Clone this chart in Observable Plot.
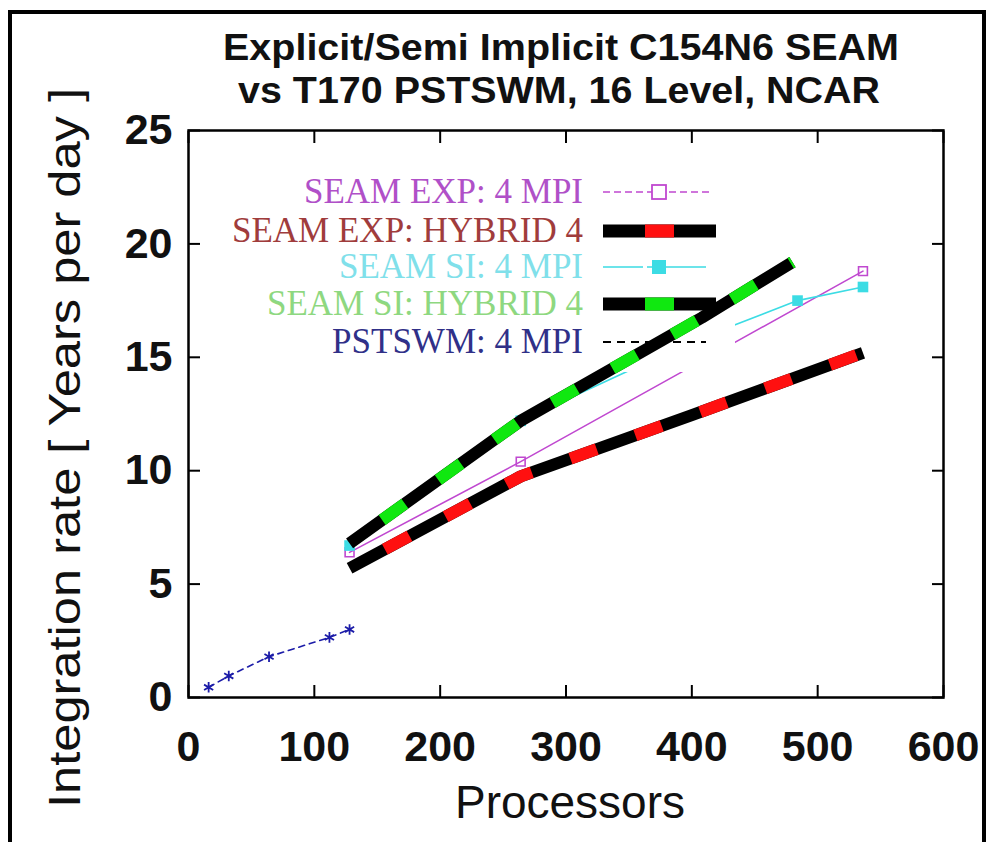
<!DOCTYPE html>
<html><head><meta charset="utf-8">
<script src="https://cdn.jsdelivr.net/npm/d3@7"></script>
<script src="https://cdn.jsdelivr.net/npm/@observablehq/plot@0.6"></script>
<style>
html,body{margin:0;padding:0;background:#fff;}
#wrap{position:relative;width:996px;height:842px;overflow:hidden;background:#fff;}
#wrap > svg{position:absolute;left:0;top:0;}
#border{position:absolute;left:8px;top:10px;width:970px;height:900px;border:4px solid #000;}
</style></head><body><div id="wrap"><div id="border"></div></div>
<script>
// ---- data ----
const xTicks = [0, 100, 200, 300, 400, 500, 600];
const yTicks = [0, 5, 10, 15, 20, 25];

const seamExpMpiProcs = [128, 264, 400, 536];
const seamExpMpiRate  = [6.4, 10.4, 14.6, 18.8];

const seamExpHybProcs = [128, 264, 400, 536];
const seamExpHybRate  = [5.7, 9.75, 12.45, 15.2];

const seamSiMpiProcs  = [128, 264, 400, 484, 536];
const seamSiMpiRate   = [6.7, 12.2, 15.7, 17.5, 18.1];

const seamSiHybProcs  = [128, 264, 408, 480];
const seamSiHybRate   = [6.8, 12.2, 16.75, 19.2];

const pstswmProcs     = [16, 32, 64, 112, 128];
const pstswmRate      = [0.45, 0.95, 1.8, 2.65, 3.0];

const seriesNames = ["SEAM EXP: 4 MPI", "SEAM EXP: HYBRID 4", "SEAM SI: 4 MPI", "SEAM SI: HYBRID 4", "PSTSWM: 4 MPI"];
const titleLines = ["Explicit/Semi Implicit C154N6 SEAM", "vs T170 PSTSWM, 16 Level, NCAR"];
const xLabel = "Processors";
const yLabel = "Integration rate  [ Years per day ]";

// ---- styles ----
const C = {
  expMpi: "#c048d0", expHyb: "#ff1010", siMpi: "#3cdce4", siHyb: "#10e810", pst: "#1c1ca8",
  txt: ["#b050c8", "#a03c3c", "#80e0ea", "#8ed880", "#303088"]
};
const pts = (xs, ys) => xs.map((x, i) => ({x, y: ys[i]}));
const expMpi = pts(seamExpMpiProcs, seamExpMpiRate);
const expHyb = pts(seamExpHybProcs, seamExpHybRate);
const siMpi = pts(seamSiMpiProcs, seamSiMpiRate);
const siHyb = pts(seamSiHybProcs, seamSiHybRate);
const pst = pts(pstswmProcs, pstswmRate);

const W = 996, H = 842;
const base = {
  width: W, height: H,
  marginLeft: 188, marginRight: 53, marginTop: 130, marginBottom: 145,
  x: {domain: [0, 600]}, y: {domain: [0, 25]},
  style: {background: "transparent", fontFamily: "'Liberation Sans', Arial, sans-serif", color: "#111", overflow: "visible"}
};
const hyb = 12;

const mainLayer = Plot.plot({
  ...base,
  marks: [
    Plot.line(pst, {x: "x", y: "y", stroke: C.pst, strokeWidth: 1.6, strokeDasharray: "6,5"}),
    Plot.dot(pst, {x: "x", y: "y", symbol: "asterisk", stroke: C.pst, r: 5, strokeWidth: 1.8}),
    Plot.line(expHyb, {x: "x", y: "y", stroke: "#000", strokeWidth: hyb, strokeLinecap: "butt"}),
    Plot.line(expHyb, {x: "x", y: "y", stroke: C.expHyb, strokeWidth: hyb, strokeLinecap: "butt", strokeDasharray: "28,41", strokeDashoffset: -40}),
    Plot.line(expMpi, {x: "x", y: "y", stroke: C.expMpi, strokeWidth: 1.6}),
    Plot.dot(expMpi, {x: "x", y: "y", symbol: "square", stroke: C.expMpi, fill: "none", r: 5, strokeWidth: 1.6}),
    Plot.line(siMpi, {x: "x", y: "y", stroke: C.siMpi, strokeWidth: 1.6}),
    Plot.dot(siMpi, {x: "x", y: "y", symbol: "square", fill: C.siMpi, r: 6}),
    Plot.frame({stroke: "#000", strokeWidth: 2.5}),
    Plot.axisX(xTicks, {anchor: "bottom", tickSize: -12, fill: "none", label: null, strokeWidth: 2, stroke: "#000"}),
    Plot.axisX(xTicks, {anchor: "top", tickSize: -12, fill: "none", label: null, strokeWidth: 2, stroke: "#000"}),
    Plot.axisY(yTicks, {anchor: "left", tickSize: -12, fill: "none", label: null, strokeWidth: 2, stroke: "#000"}),
    Plot.axisY(yTicks, {anchor: "right", tickSize: -12, fill: "none", label: null, strokeWidth: 2, stroke: "#000"}),
    Plot.axisX(xTicks, {anchor: "bottom", tickSize: 0, tickPadding: 33, fontSize: 43, fontWeight: "bold", fill: "#111", label: null}),
    Plot.axisY(yTicks, {anchor: "left", tickSize: 0, tickPadding: 16, fontSize: 43, fontWeight: "bold", fill: "#111", label: null})
  ]
});

const topLayer = Plot.plot({
  ...base,
  x: {domain: [0, 600], axis: null}, y: {domain: [0, 25], axis: null},
  marks: [
    Plot.line(siHyb, {x: "x", y: "y", stroke: "#000", strokeWidth: hyb, strokeLinecap: "butt"}),
    Plot.line(siHyb, {x: "x", y: "y", stroke: C.siHyb, strokeWidth: hyb, strokeLinecap: "butt", strokeDasharray: "28,41", strokeDashoffset: -40})
  ]
});

// ---- overlay: title, axis labels, legend ----
const NS = "http://www.w3.org/2000/svg";
function el(parent, tag, attrs, text) {
  const e = document.createElementNS(NS, tag);
  for (const k in attrs) e.setAttribute(k, attrs[k]);
  if (text != null) e.textContent = text;
  parent.appendChild(e);
  return e;
}
const ov = document.createElementNS(NS, "svg");
ov.setAttribute("width", W); ov.setAttribute("height", H);
ov.setAttribute("style", "font-family:'Liberation Sans', Arial, sans-serif;");

// title
el(ov, "text", {x: 223, y: 60, "font-size": 37, "font-weight": "bold", fill: "#111", textLength: 676, lengthAdjust: "spacingAndGlyphs"}, titleLines[0]);
el(ov, "text", {x: 238, y: 103, "font-size": 37, "font-weight": "bold", fill: "#111", textLength: 642, lengthAdjust: "spacingAndGlyphs"}, titleLines[1]);
// axis labels
el(ov, "text", {x: 570, y: 818, "font-size": 46, "text-anchor": "middle", fill: "#111"}, xLabel);
el(ov, "text", {x: 0, y: 0, "font-size": 45, "text-anchor": "middle", fill: "#111", transform: "translate(80,448) rotate(-90)", textLength: 720, lengthAdjust: "spacingAndGlyphs"}, yLabel);

// legend
el(ov, "rect", {x: 275, y: 165, width: 460, height: 207, fill: "#fff"});
const rowsBase = [203, 242, 278, 315, 353];
const rowsMid = [192, 231, 267, 304, 342];
seriesNames.forEach((n, i) => {
  el(ov, "text", {x: 583, y: rowsBase[i], "font-size": 35, "text-anchor": "end", fill: C.txt[i], "font-family": "'Liberation Serif', 'Times New Roman', serif"}, n);
});
// key samples
let m = rowsMid[0];
el(ov, "line", {x1: 603, x2: 712, y1: m, y2: m, stroke: C.expMpi, "stroke-width": 1.6, "stroke-dasharray": "7,4"});
el(ov, "rect", {x: 652, y: m - 7, width: 14, height: 14, fill: "#fff", stroke: C.expMpi, "stroke-width": 1.8});
m = rowsMid[1];
el(ov, "rect", {x: 603, y: m - 6.5, width: 113, height: 13, fill: "#000"});
el(ov, "rect", {x: 645, y: m - 6.5, width: 29, height: 13, fill: C.expHyb});
m = rowsMid[2];
el(ov, "line", {x1: 603, x2: 706, y1: m, y2: m, stroke: C.siMpi, "stroke-width": 1.6, "stroke-dasharray": "40,4,60,5,20"});
el(ov, "rect", {x: 652, y: m - 7, width: 14, height: 14, fill: C.siMpi});
m = rowsMid[3];
el(ov, "rect", {x: 603, y: m - 6.5, width: 113, height: 13, fill: "#000"});
el(ov, "rect", {x: 645, y: m - 6.5, width: 29, height: 13, fill: C.siHyb});
m = rowsMid[4];
el(ov, "line", {x1: 603, x2: 706, y1: m, y2: m, stroke: "#000", "stroke-width": 2, "stroke-dasharray": "8,6"});

const wrap = document.getElementById("wrap");
const borderEl = document.getElementById("border");
wrap.insertBefore(mainLayer, borderEl);
wrap.insertBefore(ov, borderEl);
wrap.insertBefore(topLayer, borderEl);
</script>
</body></html>
